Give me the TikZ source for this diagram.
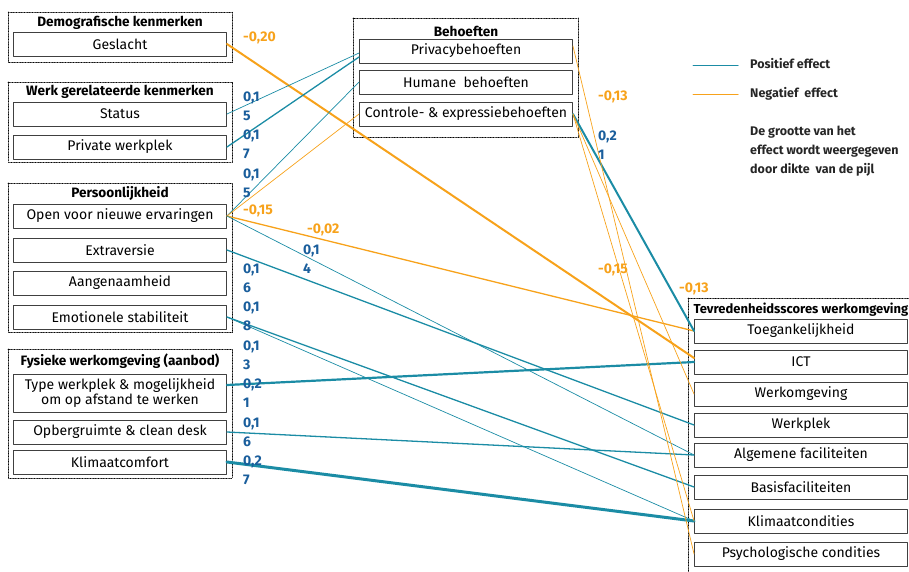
\documentclass[tikz,border=0pt]{standalone}
\usepackage{fontspec}
\setmainfont{Fira Sans}
\usetikzlibrary{positioning}
\definecolor{tealc}{HTML}{1B8CA5}
\definecolor{oranje}{HTML}{F7A21B}
\definecolor{blauw}{HTML}{1A5E9C}

\begin{document}
\begin{tikzpicture}[x=1pt, y=-1pt, line join=round, line cap=round,
    box/.style={draw=black!75, line width=0.9pt, minimum width=213pt, minimum height=24pt,
        inner sep=0pt, align=center, font=\fontsize{14}{15}\selectfont},
    grp/.style={densely dotted, line width=0.6pt},
    kop/.style={font=\fontsize{13.6}{15}\selectfont\bfseries},
    pos/.style={draw=tealc, line width=#1},
    neg/.style={draw=oranje, line width=#1},
    wpos/.style={font=\fontsize{14}{19}\selectfont\bfseries, text=blauw, align=left, anchor=west, inner sep=0pt},
    wneg/.style={font=\fontsize{14}{19}\selectfont\bfseries, text=oranje, anchor=west, inner sep=0pt},
    leg/.style={font=\fontsize{12.5}{19}\selectfont\bfseries, text=black!85, align=left, anchor=west, inner sep=0pt}]
\useasboundingbox (0,0) rectangle (909,571);

% groepen links
\draw[grp] (8,12) rectangle (232,62);
\node[kop] (tdem) at (120,23) {Demografische kenmerken};
\node[box] (gesl) at (120,44) {Geslacht};

\draw[grp] (8,82) rectangle (232,162);
\node[kop] (twerk) at (120,92) {Werk gerelateerde kenmerken};
\node[box] (status) at (120,114) {Status};
\node[box] (prive) at (120,147) {Private werkplek};

\draw[grp] (8,183) rectangle (232,332);
\node[kop] (tpers) at (120,193) {Persoonlijkheid};
\node[box] (open) at (120,216) {Open voor nieuwe ervaringen};
\node[box] (extra) at (120,250) {Extraversie};
\node[box] (aang) at (120,283) {Aangenaamheid};
\node[box] (emot) at (120,317) {Emotionele stabiliteit};

\draw[grp] (8,349) rectangle (232,478);
\node[kop] (tfys) at (120,361) {Fysieke werkomgeving (aanbod)};
\node[box, minimum height=38pt] (type) at (120,393) {Type werkplek \& mogelijkheid\\om op afstand te werken};
\node[box] (opberg) at (120,432) {Opbergruimte \& clean desk};
\node[box] (klimaat) at (120,462) {Klimaatcomfort};

% behoeften
\draw[grp] (353,18) rectangle (578,137);
\node[kop] (tbeh) at (466,31) {Behoeften};
\node[box] (privacy) at (466,51) {Privacybehoeften};
\node[box] (humane) at (466,82) {Humane~ behoeften};
\node[box] (controle) at (466,114) {Controle- \& expressiebehoeften};

% tevredenheid
\draw[grp] (688,298) rectangle (912,575);
\node[kop, anchor=west, font=\fontsize{13}{15}\selectfont\bfseries] (ttev) at (690,310) {Tevredenheidsscores werkomgeving};
\node[box] (toeg) at (801,331) {Toegankelijkheid};
\node[box] (ict) at (801,362) {ICT};
\node[box] (wom) at (801,394) {Werkomgeving};
\node[box] (wpl) at (801,425) {Werkplek};
\node[box] (alg) at (801,455) {Algemene faciliteiten};
\node[box] (basis) at (801,487) {Basisfaciliteiten};
\node[box] (klimc) at (801,521) {Klimaatcondities};
\node[box] (psy) at (801,554) {Psychologische condities};

% legenda
\coordinate (lp1) at (693,65); \coordinate (lp2) at (738,65);
\coordinate (ln1) at (693,94); \coordinate (ln2) at (738,94);
\draw[pos=1pt] (lp1) -- (lp2);
\draw[neg=1pt] (ln1) -- (ln2);
\node[leg] (tpos) at (750,64) {Positief effect};
\node[leg] (tneg) at (750,94) {Negatief~ effect};
\node[leg] (tdik) at (750,151) {De grootte van het\\effect wordt weergegeven\\door dikte~ van de pijl};

% effecten
\draw[neg=2pt] (gesl.east) -- ([yshift=4pt]ict.west);
\draw[pos=0.7pt] (status.east) -- ([yshift=-2pt]privacy.west);
\draw[pos=1.3pt] (prive.east) -- ([yshift=-6pt]privacy.west);
\draw[pos=0.7pt] (open.east) -- (humane.west);
\draw[neg=0.7pt] (open.east) -- (controle.west);
\draw[neg=1.3pt] (open.east) -- (toeg.west);
\draw[pos=0.7pt] (open.east) -- (alg.west);
\draw[pos=1.3pt] (extra.east) -- (wpl.west);
\draw[pos=1.3pt] (emot.east) -- (basis.west);
\draw[pos=0.7pt] (emot.east) -- (klimc.west);
\draw[pos=2.2pt] ([yshift=8pt]type.east) -- (ict.west);
\draw[pos=1.3pt] (opberg.east) -- (alg.west);
\draw[pos=3pt] (klimaat.east) -- (klimc.west);
\draw[pos=2pt] (controle.east) -- (toeg.west);
\draw[neg=0.7pt] ([yshift=5pt]privacy.east) -- (psy.west);
\draw[neg=0.7pt] (controle.east) -- (klimc.west);
\draw[neg=0.7pt] (controle.east) -- (wom.west);

% gewichten
\node[wneg] (w1) at (243,38) {-0,20};
\node[wpos] (w2) at (243,106) {0,1\\5};
\node[wpos] (w3) at (243,144) {0,1\\7};
\node[wpos] (w4) at (243,183) {0,1\\5};
\node[wneg] (w5) at (243,211) {-0,15};
\node[wneg] (w6) at (307,230) {-0,02};
\node[wpos] (w7) at (303,259) {0,1\\4};
\node[wpos] (w8) at (243,278) {0,1\\6};
\node[wpos] (w9) at (243,316) {0,1\\8};
\node[wpos] (w10) at (243,355) {0,1\\3};
\node[wpos] (w11) at (243,393) {0,2\\1};
\node[wpos] (w12) at (243,432) {0,1\\6};
\node[wpos] (w13) at (243,470) {0,2\\7};
\node[wneg] (w14) at (598,97) {-0,13};
\node[wpos] (w15) at (598,145) {0,2\\1};
\node[wneg] (w16) at (598,270) {-0,15};
\node[wneg] (w17) at (679,289) {-0,13};
\end{tikzpicture}
\end{document}
